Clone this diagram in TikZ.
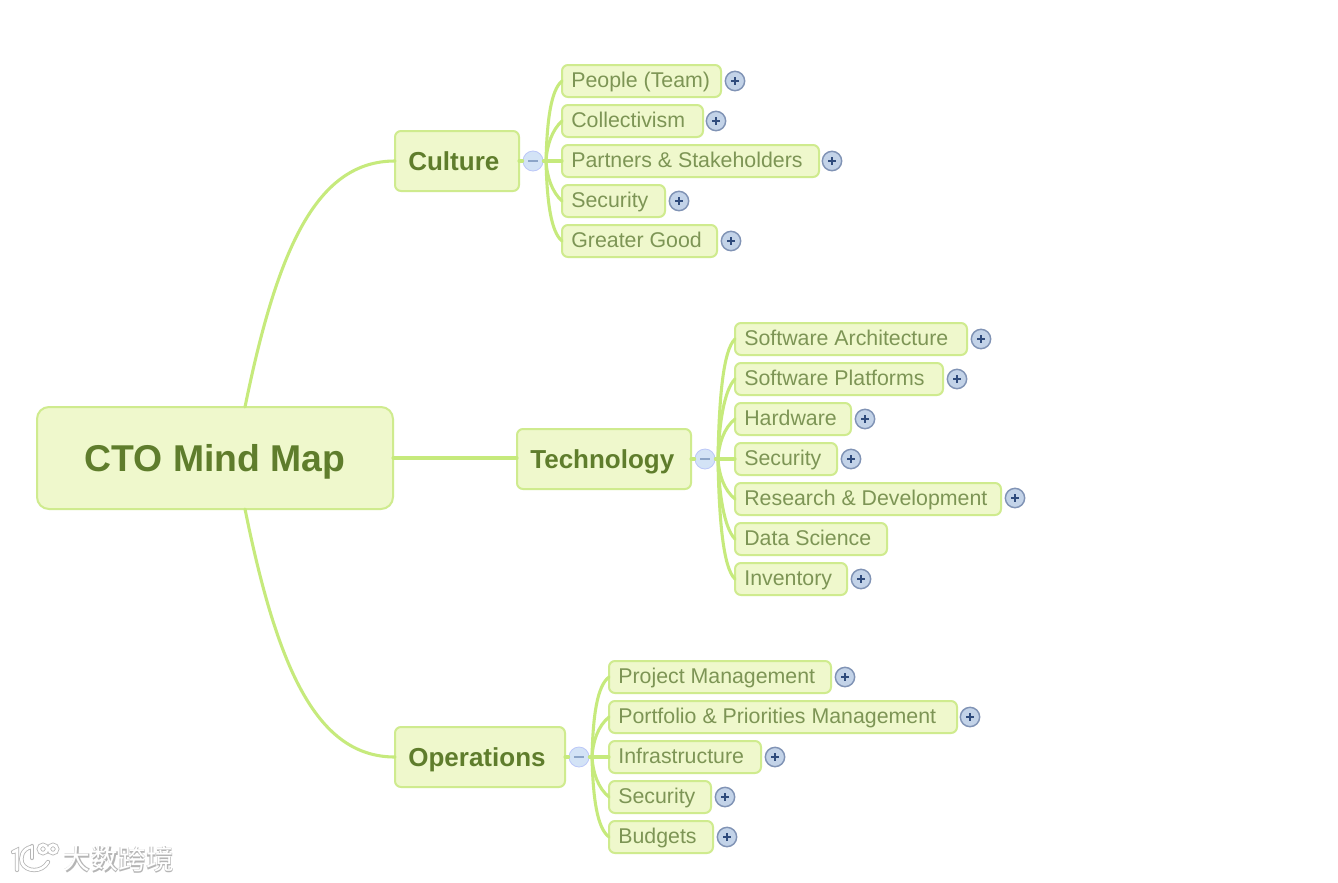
\documentclass[tikz,border=0pt]{standalone}
\usepackage{fontspec}
\setmainfont{Liberation Sans}
\newfontfamily\cjkfont{Noto Sans CJK SC}
\definecolor{nodefill}{HTML}{EFF8CC}
\definecolor{nodeedge}{HTML}{CFEB8E}
\definecolor{linkcol}{HTML}{C6EA7C}
\definecolor{leaftext}{HTML}{7D9555}
\definecolor{hubtext}{HTML}{5F7D2C}
\definecolor{plusfill}{HTML}{C3D3E8}
\definecolor{plusedge}{HTML}{8093B5}
\definecolor{plusmark}{HTML}{2F4B7C}
\definecolor{minusfill}{HTML}{D3E3F6}
\definecolor{minusmark}{HTML}{8CA5C8}
\definecolor{wmshade}{HTML}{B5B5B5}
\tikzset{
  x=0.75pt,y=-0.75pt,
  basebox/.style={draw=nodeedge,fill=nodefill,rounded corners=4.5pt,inner sep=0pt,outer sep=0pt,anchor=west},
  leafbox/.style={basebox,line width=1.5pt,minimum height=24pt,inner xsep=7pt,text=leaftext,font=\fontsize{16pt}{18pt}\selectfont,text height=11.5pt,text depth=1.5pt},
  hubbox/.style={basebox,line width=1.5pt,minimum height=45pt,inner xsep=10pt,text=hubtext,font=\fontsize{19.5pt}{22pt}\selectfont\bfseries,text height=14pt,text depth=0pt},
  rootbox/.style={basebox,line width=1.5pt,rounded corners=9pt,text=hubtext,font=\fontsize{28pt}{30pt}\selectfont\bfseries,text height=20pt,text depth=0pt},
  plusdot/.style={circle,draw=plusedge,fill=plusfill,line width=1.1pt,minimum size=14.5pt,inner sep=0pt,
    path picture={\draw[plusmark,line width=1.2pt]
      ([xshift=-2.8pt]path picture bounding box.center)--([xshift=2.8pt]path picture bounding box.center)
      ([yshift=-2.8pt]path picture bounding box.center)--([yshift=2.8pt]path picture bounding box.center);}},
  minusdot/.style={circle,draw=minusfill!85!blue!90!white,fill=minusfill,line width=.6pt,minimum size=15pt,inner sep=0pt,
    path picture={\draw[minusmark,line width=1pt]
      ([xshift=-3.4pt]path picture bounding box.center)--([xshift=3.4pt]path picture bounding box.center);}},
  link/.style={draw=linkcol,line width=2.3pt,line cap=round},
  wmfront/.style={white,font=\cjkfont\fontsize{20.8pt}{22pt}\selectfont,inner sep=0pt},
  wmback/.style={wmshade,font=\cjkfont\bfseries\fontsize{20.8pt}{22pt}\selectfont,inner sep=0pt},
  wmline/.style={draw=white,line width=2pt,line cap=round},
  wmshadow/.style={draw=wmshade,line width=3.2pt,line cap=round},
}
% #1 name, #2 left x, #3 right x, #4 centre y, #5 text
\newcommand\leafbox[5]{\pgfmathsetmacro\lbw{(#3-#2)*0.75-14}%
  \node[leafbox] (#1) at (#2,#4) {\makebox[\lbw pt][l]{#5}};}
\newcommand\hubbox[5]{\pgfmathsetmacro\lbw{(#3-#2)*0.75-20}%
  \node[hubbox] (#1) at (#2,#4) {\makebox[\lbw pt][l]{#5}};}
\newcommand\plusdot[3]{\node[plusdot] (#1) at (#2,#3) {};}
\begin{document}
\begin{tikzpicture}
\useasboundingbox (0,0) rectangle (1338,882);
\fill[white] (0,0) rectangle (1338,882);

\node[rootbox,minimum width=267pt,minimum height=76.5pt] (root) at (37,458) {CTO Mind Map};
\hubbox{culture}{395}{519}{161}{Culture}
\hubbox{tech}{517}{691}{459}{Technology}
\hubbox{ops}{395}{565}{757}{Operations}

\node[minusdot] (mc) at (533,161) {};
\node[minusdot] (mt) at (705,459) {};
\node[minusdot] (mo) at (579,757) {};
\coordinate (tc) at (546,161);
\coordinate (tt) at (718,459);
\coordinate (to) at (592,757);

\leafbox{c1}{562}{721}{81}{People (Team)}
\leafbox{c2}{562}{703}{121}{Collectivism}
\leafbox{c3}{562}{819}{161}{Partners \& Stakeholders}
\leafbox{c4}{562}{665}{201}{Security}
\leafbox{c5}{562}{717}{241}{Greater Good}
\plusdot{pc1}{735}{81}
\plusdot{pc2}{716}{121}
\plusdot{pc3}{832}{161}
\plusdot{pc4}{679}{201}
\plusdot{pc5}{731}{241}

\leafbox{t1}{735}{967}{339}{Software Architecture}
\leafbox{t2}{735}{943}{379}{Software Platforms}
\leafbox{t3}{735}{851}{419}{Hardware}
\leafbox{t4}{735}{837}{459}{Security}
\leafbox{t5}{735}{1001}{499}{Research \& Development}
\leafbox{t6}{735}{887}{539}{Data Science}
\leafbox{t7}{735}{847}{579}{Inventory}
\plusdot{pt1}{981}{339}
\plusdot{pt2}{957}{379}
\plusdot{pt3}{865}{419}
\plusdot{pt4}{851}{459}
\plusdot{pt5}{1015}{498}
\plusdot{pt7}{861}{579}

\leafbox{o1}{609}{831}{677}{Project Management}
\leafbox{o2}{609}{957}{717}{Portfolio \& Priorities Management}
\leafbox{o3}{609}{761}{757}{Infrastructure}
\leafbox{o4}{609}{711}{797}{Security}
\leafbox{o5}{609}{713}{837}{Budgets}
\plusdot{po1}{845}{677}
\plusdot{po2}{970}{717}
\plusdot{po3}{775}{757}
\plusdot{po4}{725}{797}
\plusdot{po5}{727}{837}

% root links
\coordinate (rtop) at (245,407);
\coordinate (rbot) at (245,509);
\draw[link] (rtop) .. controls (278,245) and (318,161) .. (culture.west);
\draw[link] (rbot) .. controls (278,672) and (318,757) .. (ops.west);
\draw[link] (root.east) -- (root.east -| tech.west);

% hub to collapse dot
\draw[link] (culture.east) -- (mc.west);
\draw[link] (tech.east) -- (mt.west);
\draw[link] (ops.east) -- (mo.west);
\draw[link] (mc.east) -- (tc);
\draw[link] (mt.east) -- (tt);
\draw[link] (mo.east) -- (to);

% branch links
\draw[link] (tc) .. controls (547,120) and (551,90) .. (c1.west);
\draw[link] (tc) .. controls (547,145) and (552,130) .. (c2.west);
\draw[link] (tc) -- (c3.west);
\draw[link] (tc) .. controls (547,177) and (552,192) .. (c4.west);
\draw[link] (tc) .. controls (547,202) and (551,232) .. (c5.west);

\draw[link] (tt) .. controls (719,400) and (723,350) .. (t1.west);
\draw[link] (tt) .. controls (719,425) and (724,390) .. (t2.west);
\draw[link] (tt) .. controls (719,443) and (724,428) .. (t3.west);
\draw[link] (tt) -- (t4.west);
\draw[link] (tt) .. controls (719,475) and (724,490) .. (t5.west);
\draw[link] (tt) .. controls (719,493) and (724,528) .. (t6.west);
\draw[link] (tt) .. controls (719,518) and (723,568) .. (t7.west);

\draw[link] (to) .. controls (593,716) and (597,686) .. (o1.west);
\draw[link] (to) .. controls (593,741) and (598,726) .. (o2.west);
\draw[link] (to) -- (o3.west);
\draw[link] (to) .. controls (593,773) and (598,788) .. (o4.west);
\draw[link] (to) .. controls (593,798) and (597,828) .. (o5.west);

% watermark
\foreach \st in {wmshadow,wmline}{
  \draw[\st] (13,852) -- (17,850) -- (17,870);
  \draw[\st] (31,847) .. controls (22,849) and (20,858) .. (22,863) .. controls (26,872) and (42,873) .. (48,862);
  \draw[\st] (32,846) -- (32,858);
  \draw[\st] (43,849) circle[radius=4.2];
  \draw[\st] (53,849) circle[radius=4.2];
}
\node[wmback] (wmb) at (118.8,860) {大数跨境};
\node[wmfront] (wmf) at (118.3,859) {大数跨境};
\end{tikzpicture}
\end{document}
